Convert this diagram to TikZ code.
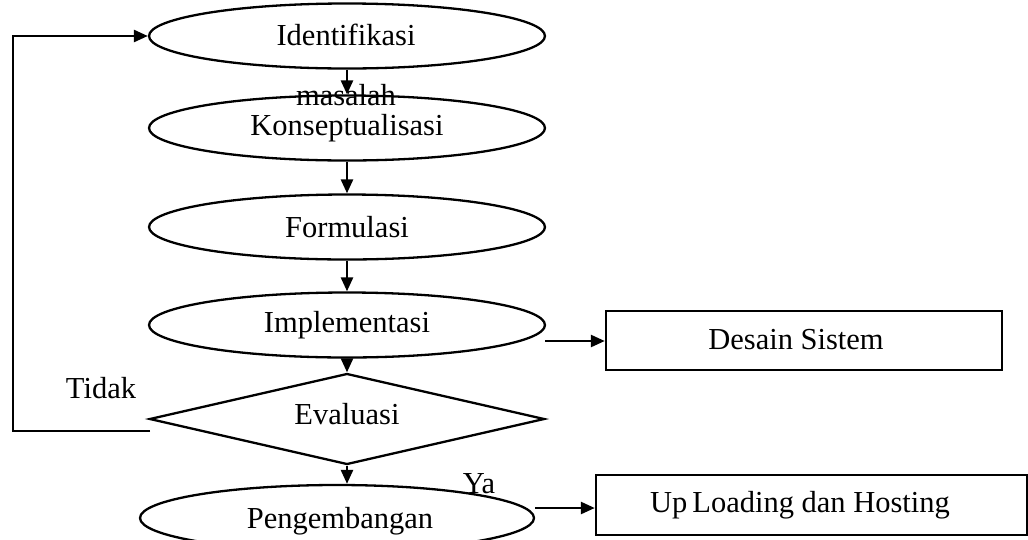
\documentclass[tikz,border=0pt]{standalone}
\usepackage{fontspec}
\setmainfont{Liberation Serif}
\usetikzlibrary{shapes.geometric,arrows.meta}

\tikzset{
  stage/.style={draw, ellipse, line width=2.3pt, inner sep=0pt,
    minimum width=396pt, minimum height=65pt},
  boxnode/.style={draw, rectangle, line width=2.4pt, inner sep=0pt},
  arr/.style={line width=2.6pt, -{Triangle[length=14pt,width=12pt]}},
  lbl/.style={inner sep=0pt}
}

\begin{document}
\begin{tikzpicture}[x=1pt,y=-1pt,font=\fontsize{30.5}{34}\selectfont]
\useasboundingbox (0,0) rectangle (1028,539);

% process stages
\node[stage] (ident) at (347,36) {};
\node[lbl] (identtxt) at (346,35) {Identifikasi};
\node[stage] (konsep) at (347,128) {Konseptualisasi};
\node[stage] (formul) at (347,227) {Formulasi};
\node[stage] (impl) at (347,325) {Implementasi};
\node[draw, diamond, line width=2.3pt, inner sep=0pt, aspect=4.34,
      minimum width=395pt, minimum height=91pt] (eval) at (347,419) {};
\node[lbl] (evaltxt) at (347,414) {Evaluasi};
\node[stage, minimum width=394pt, minimum height=66pt] (pengem) at (337,518) {};
\node[lbl] (pengemtxt) at (340,521) {Pengembangan};

% side outputs
\node[boxnode, minimum width=396pt, minimum height=59pt] (desain) at (804,340.5) {};
\node[lbl] (desaintxt) at (796,340) {Desain Sistem};
\node[boxnode, minimum width=431pt, minimum height=60pt] (upload) at (811.5,505) {};
\node[lbl] (uploadtxt) at (800,505) {Up\,Loading dan Hosting};

% labels
\node[lbl] (masalah) at (346,95) {masalah};
\node[lbl] (tidak) at (101,388) {Tidak};
\node[lbl] (ya) at (479,484) {Ya};

% main flow
\draw[arr] (ident.south) -- (konsep.north);
\draw[arr] (konsep.south) -- (formul.north);
\draw[arr] (formul.south) -- (impl.north);
\draw[arr] (impl.south) -- (eval.north);
\draw[arr] (eval.south) -- (eval.south |- pengem.north);

% outputs to the right
\coordinate (implout) at (545,341);
\draw[arr] (implout) -- (implout -| desain.west);
\coordinate (pengout) at (535,508);
\draw[arr] (pengout) -- (pengout -| upload.west);

% feedback loop for "Tidak"
\coordinate (loopstart) at (150,431);
\coordinate (loopcorner) at (13,431);
\draw[arr] (loopstart) -- (loopcorner) |- (ident.west);
\end{tikzpicture}
\end{document}
